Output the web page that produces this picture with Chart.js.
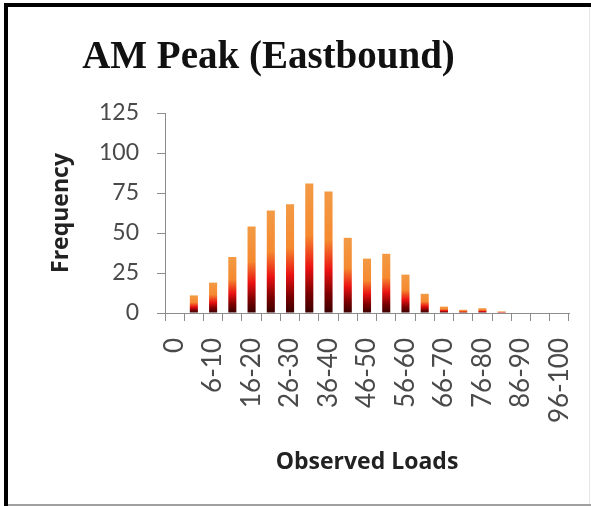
<!DOCTYPE html>
<html>
<head>
<meta charset="utf-8">
<script src="https://cdn.jsdelivr.net/npm/chart.js@4.4.1/dist/chart.umd.min.js"></script>
<style>
html,body{margin:0;padding:0;background:#fff;}
#wrap{position:relative;width:591px;height:506px;}
canvas{display:block;}
</style>
</head>
<body>
<div id="wrap"><canvas id="c" width="591" height="506"></canvas></div>
<script>
const chartTitle = "AM Peak (Eastbound)";
const xAxisTitle = "Observed Loads";
const yAxisTitle = "Frequency";
const categories = ["0","1-5","6-10","11-15","16-20","21-25","26-30","31-35","36-40","41-45","46-50","51-55","56-60","61-65","66-70","71-75","76-80","81-85","86-90","91-95","96-100"];
const frequency = [0,11,19,35,54,64,68,81,76,47,34,37,24,12,4,2,3,1,0,0,0];
const yTicks = [0,25,50,75,100,125];

const tickColor = "#4a4a4a";
const axisColor = "#8c8c8c";

function barGradient(ctx) {
  const chart = ctx.chart;
  const area = chart.chartArea;
  if (!area || ctx.type !== 'data') return '#f08a30';
  const y = chart.scales.y;
  const v = ctx.raw;
  const top = y.getPixelForValue(v);
  const base = y.getPixelForValue(0);
  if (!(base - top > 0.5)) return '#f08a30';
  const g = chart.ctx.createLinearGradient(0, base, 0, top);
  g.addColorStop(0, '#3a0000');
  g.addColorStop(0.15, '#7a0000');
  g.addColorStop(0.35, '#ea1212');
  g.addColorStop(0.6, '#f58a30');
  g.addColorStop(1, '#f39a45');
  return g;
}

const framePlugin = {
  id: 'frame',
  afterDraw(chart) {
    const c = chart.ctx;
    c.save();
    c.fillStyle = '#000';
    c.fillRect(4, 3, 587, 4);
    c.fillRect(4, 3, 4, 503);
    c.fillStyle = '#a0a0a0';
    c.fillRect(8, 504, 583, 2);
    c.fillStyle = '#e6e6e6';
    c.fillRect(589, 7, 1, 497);
    c.fillStyle = '#111';
    c.font = 'bold 39px "Liberation Serif"';
    c.textAlign = 'center';
    c.textBaseline = 'alphabetic';
    c.fillText(chartTitle, 268.5, 68);
    c.restore();
  }
};

new Chart(document.getElementById('c'), {
  type: 'bar',
  data: {
    labels: categories,
    datasets: [{
      label: yAxisTitle,
      data: frequency,
      backgroundColor: barGradient,
      borderWidth: 0,
      barPercentage: 0.42,
      categoryPercentage: 1.0
    }]
  },
  options: {
    responsive: false,
    animation: false,
    devicePixelRatio: 1,
    layout: {padding: {left: 10, right: 22, top: 113, bottom: 20}},
    plugins: {
      legend: {display: false},
      tooltip: {enabled: false},
      title: {display: false}
    },
    scales: {
      x: {
        offset: true,
        grid: {offset: true, drawOnChartArea: false, drawTicks: true, tickLength: 8, color: axisColor, lineWidth: 1},
        border: {display: true, color: axisColor, width: 1},
        ticks: {
          autoSkip: false, maxRotation: 90, minRotation: 90, padding: 17,
          color: tickColor, font: {family: "Lato", size: 26},
          callback: (v, i) => (i % 2 === 0 ? categories[i] : '')
        },
        title: {display: true, text: xAxisTitle, color: '#222', font: {family: 'Open Sans', weight: 'bold', size: 23}, padding: {top: 0, bottom: 10}},
        afterFit(scale) { scale.height = 506 - 20 - 313; scale.paddingLeft = 0; scale.paddingRight = 0; }
      },
      y: {
        min: 0, max: 125,
        afterBuildTicks(scale) { scale.ticks = yTicks.map(v => ({value: v})); },
        grid: {drawOnChartArea: false, drawTicks: true, tickLength: 8, color: axisColor, lineWidth: 1},
        border: {display: true, color: axisColor, width: 1},
        ticks: {color: tickColor, font: {family: "Lato", size: 23}, padding: 18},
        title: {display: true, text: yAxisTitle, color: '#222', font: {family: 'Open Sans', weight: 'bold', size: 23}, padding: {top: 38, bottom: 0}},
        afterFit(scale) { scale.width = 165 - 10; scale.paddingTop = 0; scale.paddingBottom = 0; }
      }
    }
  },
  plugins: [framePlugin]
});
</script>
</body>
</html>
